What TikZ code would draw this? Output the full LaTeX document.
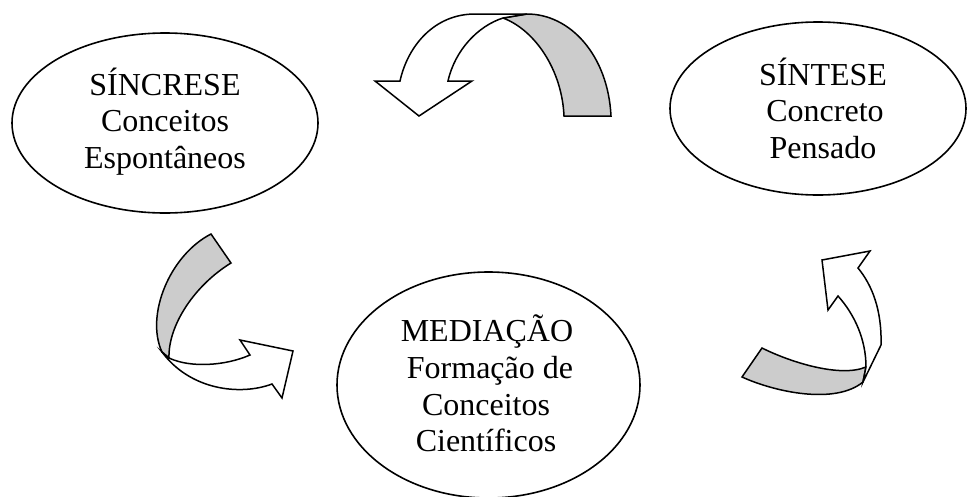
\documentclass[tikz,border=0pt]{standalone}
\usepackage{fontspec}
\setmainfont{Liberation Serif}
\usetikzlibrary{shapes.geometric}
\definecolor{bandgray}{RGB}{204,204,204}
\begin{document}
\begin{tikzpicture}[x=1pt,y=-1pt,
  ell/.style={draw,ellipse,line width=1.6pt,inner sep=0pt},
  lbl/.style={anchor=base,inner sep=0pt,font=\fontsize{32}{36}\selectfont},
  band/.style={draw,fill=bandgray,line width=1.5pt,line join=miter},
  arrowbody/.style={draw,fill=white,line width=1.5pt,line join=miter}]
\useasboundingbox (0,0) rectangle (967,496);

% ellipses
\node[ell,minimum width=306pt,minimum height=180pt] (sincrese) at (165,123) {};
\node[ell,minimum width=303pt,minimum height=226pt] (mediacao) at (488.5,385) {};
\node[ell,minimum width=296pt,minimum height=173pt] (sintese) at (818,108.5) {};

% texts
\node[lbl] (s1) at (165,95) {SÍNCRESE};
\node[lbl] (s2) at (165,131.7) {Conceitos};
\node[lbl] (s3) at (165,168) {Espontâneos};

\node[lbl] (m1) at (487,341.7) {MEDIAÇÃO};
\node[lbl] (m2) at (490,378) {Formação de};
\node[lbl] (m3) at (486,415) {Conceitos};
\node[lbl] (m4) at (486,451.7) {Científicos};

\node[lbl] (t1) at (823,85) {SÍNTESE};
\node[lbl] (t2) at (825,121.7) {Concreto};
\node[lbl] (t3) at (823,158) {Pensado};

% top curved arrow (towards SINCRESE)
\draw[band] (503,18) .. controls (535,30) and (562,70) .. (564,116)
  -- (611,116) .. controls (608,55) and (570,14) .. (527,14) -- cycle;
\draw[arrowbody] (503,18) .. controls (478,26) and (455,50) .. (448,81)
  -- (472,81) -- (419,116) -- (375,81) -- (400,81)
  .. controls (408,45) and (435,14) .. (475,14) -- (527,14) -- cycle;

% left curved arrow (towards MEDIACAO)
\draw[band] (211,234) .. controls (170,255) and (145,315) .. (162,352)
  -- (169,358) .. controls (168,325) and (195,285) .. (231,263) -- cycle;
\draw[arrowbody] (169,358) .. controls (190,368) and (225,366) .. (250,355)
  -- (240,340) -- (293,351) -- (282,398) -- (272,384)
  .. controls (240,396) and (190,390) .. (162,352) -- cycle;

% right curved arrow (towards SINTESE)
\draw[band] (742,377) -- (762,348) .. controls (790,362) and (840,378) .. (866,367)
  -- (863,382) .. controls (835,405) and (775,392) .. (742,377) -- cycle;
\draw[arrowbody] (866,367) .. controls (866,340) and (855,315) .. (838,296)
  -- (828,310) -- (822,260) -- (870,251) -- (858,268)
  .. controls (872,285) and (882,310) .. (881,345) -- (863,382) -- cycle;
\end{tikzpicture}
\end{document}
